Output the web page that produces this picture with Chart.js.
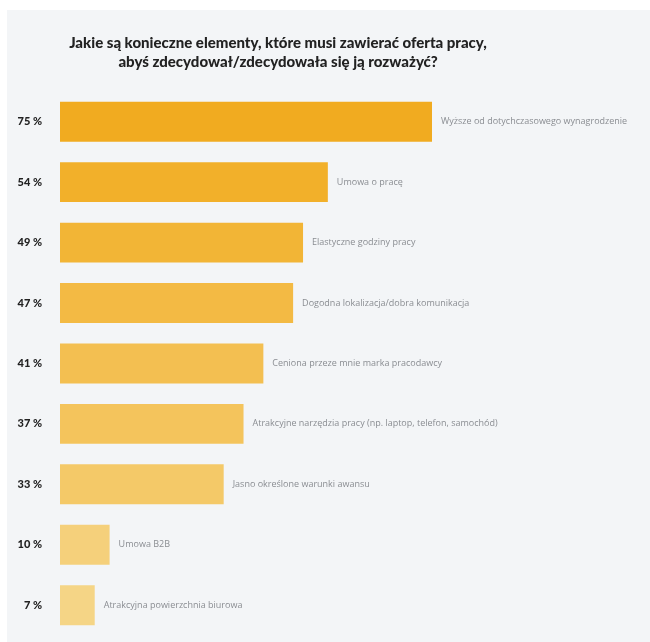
<!DOCTYPE html>
<html lang="pl">
<head>
<meta charset="utf-8">
<title>Oferta pracy</title>
<script src="https://cdn.jsdelivr.net/npm/chart.js@4/dist/chart.umd.min.js"></script>
<style>
  html, body { margin: 0; padding: 0; background: #ffffff; }
</style>
</head>
<body>
<canvas id="mycanvas" width="650" height="642"></canvas>
<script>
// dane z wykresu
let categories = [
  "Wyższe od dotychczasowego wynagrodzenie",
  "Umowa o pracę",
  "Elastyczne godziny pracy",
  "Dogodna lokalizacja/dobra komunikacja",
  "Ceniona przeze mnie marka pracodawcy",
  "Atrakcyjne narzędzia pracy (np. laptop, telefon, samochód)",
  "Jasno określone warunki awansu",
  "Umowa B2B",
  "Atrakcyjna powierzchnia biurowa"
];
let values = [75, 54, 49, 47, 41, 37, 33, 10, 7];
let pctLabels = ["75 %", "54 %", "49 %", "47 %", "41 %", "37 %", "33 %", "10 %", "7 %"];
let barColors = ["#f1ab20", "#f2b02a", "#f2b536", "#f3ba44", "#f3bf51", "#f4c45c", "#f4c968", "#f5d07b", "#f5d586"];

// tło panelu
const bgPanel = {
  id: 'bgPanel',
  beforeDraw(chart) {
    const c = chart.ctx;
    c.save();
    c.fillStyle = "#f3f5f7";
    c.fillRect(7, 10, chart.width - 7, chart.height - 10);
    c.restore();
  }
};

// opisy obok słupków
const barText = {
  id: 'barText',
  afterDatasetsDraw(chart) {
    const c = chart.ctx;
    const meta = chart.getDatasetMeta(0);
    c.save();
    c.font = "9px 'Open Sans'";
    c.fillStyle = "#8a8d92";
    c.textBaseline = "middle";
    meta.data.forEach(function (bar, i) {
      c.fillText(categories[i], bar.x + 9, bar.y);
    });
    c.restore();
  }
};

var ctx = document.getElementById("mycanvas");
var myChart = new Chart(ctx, {
  type: 'bar',
  data: {
    labels: pctLabels,
    datasets: [{
      data: values,
      backgroundColor: barColors,
      borderWidth: 0,
      barPercentage: 0.66,
      categoryPercentage: 1
    }]
  },
  options: {
    indexAxis: 'y',
    responsive: false,
    animation: false,
    layout: { padding: { left: 0, right: 94, top: 0, bottom: 0 } },
    scales: {
      x: { display: false, min: 0, max: 100 },
      y: {
        grid: { display: true, drawOnChartArea: false, drawTicks: true, tickLength: 18, color: "rgba(0,0,0,0)" },
        border: { display: false },
        ticks: {
          color: "#222222",
          font: { family: "Lato", size: 11, weight: "900" },
          padding: 0
        },
        afterFit(scale) { scale.width = 60; }
      }
    },
    plugins: {
      legend: { display: false },
      tooltip: { enabled: false },
      title: {
        display: true,
        text: ["Jakie są konieczne elementy, które musi zawierać oferta pracy,",
               "abyś zdecydował/zdecydowała się ją rozważyć?"],
        color: "#222222",
        font: { family: "Lato", size: 15, weight: "900", lineHeight: 1.25 },
        padding: { top: 34, bottom: 20 }
      }
    }
  },
  plugins: [bgPanel, barText]
});
</script>
</body>
</html>
